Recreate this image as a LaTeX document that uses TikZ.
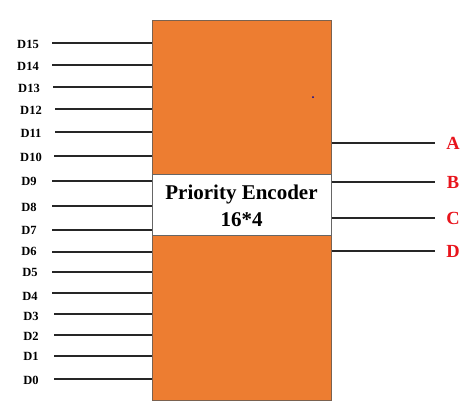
\documentclass[tikz,border=0pt]{standalone}
\usepackage{fontspec}
\setmainfont{Liberation Serif}
\definecolor{encorange}{HTML}{ED7D31}
\definecolor{encedge}{HTML}{7A6250}
\definecolor{outred}{HTML}{E8141C}
\begin{document}
\begin{tikzpicture}[x=1pt,y=-1pt,
  inlabel/.style={font=\fontsize{12.5}{14}\selectfont\bfseries, anchor=center, inner sep=0pt},
  outlabel/.style={font=\fontsize{18.5}{20}\selectfont\bfseries, text=outred, anchor=center, inner sep=0pt},
  wire/.style={draw=black!85, line width=1.2pt},
  ]
\useasboundingbox (0,0) rectangle (474,416);
\node[draw=encedge, line width=0.9pt, fill=encorange, minimum width=179pt, minimum height=380pt, inner sep=0pt, anchor=north west] (enc) at (152,20) {};
\node[draw=gray!80!black, line width=0.7pt, fill=white, minimum width=179pt, minimum height=61pt, inner sep=0pt, anchor=north west] (band) at (152,174) {};
\node[font=\fontsize{21}{27}\selectfont\bfseries, align=center, inner sep=0pt] (title) at (241.5,205.5) {Priority Encoder\\16*4};
\fill[blue!60!black] (313,97) circle (1pt);
% inputs
\foreach \n/\ly/\wy/\lx/\sx in {15/44/43/28/52, 14/66/65/28/52, 13/88/87/29/53, 12/110/109/31/55, 11/133/132/31/55, 10/157/156/31/54, 9/181/181/29/52, 8/207/206/29/52, 7/230/230/29/52, 6/251/252/29/52, 5/272/272/30/52, 4/296/293/30/52, 3/316/314/31/54, 2/336/335/31/54, 1/356/356/31/54, 0/380/379/31/54}{
  \node[inlabel] (d\n) at (\lx,\ly) {D\n};
  \coordinate (s\n) at (\sx,\wy);
  \draw[wire] (s\n) -- (s\n -| enc.west);
}
% outputs
\foreach \o/\y in {A/143, B/182, C/218, D/251}{
  \coordinate (e\o) at (435,\y);
  \node[outlabel] (o\o) at (453,\y) {\o};
  \draw[wire] (enc.east |- e\o) -- (e\o);
}
\end{tikzpicture}
\end{document}
